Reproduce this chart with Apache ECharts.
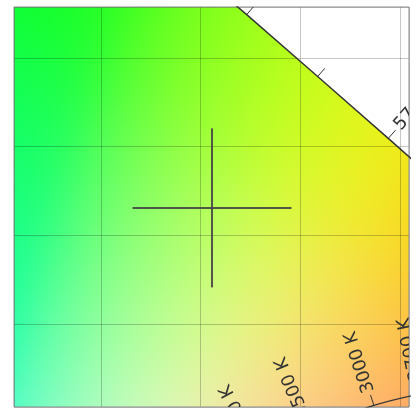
<!DOCTYPE html>
<html><head><meta charset="utf-8">
<script src="https://cdn.jsdelivr.net/npm/echarts@6/dist/echarts.min.js"></script>
<style>html,body{margin:0;padding:0;background:#fff}#main{width:419px;height:410px}</style>
</head><body><div id="main"></div>
<script>
// visible window of the CIE 1931 xy diagram
const xRange = [0.2564, 0.4545];
const yRange = [0.4032, 0.6288];

// spectral locus (CIE 1931 2°), 5 nm steps
const wavelengths = [380,385,390,395,400,405,410,415,420,425,430,435,440,445,450,455,460,465,470,475,480,485,490,495,500,505,510,515,520,525,530,535,540,545,550,555,560,565,570,575,580,585,590,595,600,605,610,615,620,625,630,635,640,645,650,655,660,665,670,675,680,685,690,695,700];
const locusX = [0.1741,0.1740,0.1738,0.1736,0.1733,0.1730,0.1726,0.1721,0.1714,0.1703,0.1689,0.1669,0.1644,0.1611,0.1566,0.1510,0.1440,0.1355,0.1241,0.1096,0.0913,0.0687,0.0454,0.0235,0.0082,0.0039,0.0139,0.0389,0.0743,0.1142,0.1547,0.1929,0.2296,0.2658,0.3016,0.3373,0.3731,0.4087,0.4441,0.4788,0.5125,0.5448,0.5752,0.6029,0.6270,0.6482,0.6658,0.6801,0.6915,0.7006,0.7079,0.7140,0.7190,0.7230,0.7260,0.7283,0.7300,0.7311,0.7320,0.7327,0.7334,0.7340,0.7344,0.7346,0.7347];
const locusY = [0.0050,0.0050,0.0049,0.0049,0.0048,0.0048,0.0048,0.0048,0.0051,0.0058,0.0069,0.0086,0.0109,0.0138,0.0177,0.0227,0.0297,0.0399,0.0578,0.0868,0.1327,0.2007,0.2950,0.4127,0.5384,0.6548,0.7502,0.8120,0.8338,0.8262,0.8059,0.7816,0.7543,0.7243,0.6923,0.6589,0.6245,0.5896,0.5547,0.5202,0.4866,0.4544,0.4242,0.3965,0.3725,0.3514,0.3340,0.3197,0.3083,0.2993,0.2920,0.2859,0.2809,0.2770,0.2740,0.2717,0.2700,0.2689,0.2680,0.2673,0.2666,0.2660,0.2656,0.2654,0.2653];
const labeledWavelengths = [480,490,500,510,520,530,540,550,560,570,580,590,600,620];

// Planckian locus
const planckTemps = [1000,1500,2000,2500,2700,3000,3500,4000,4500,5000,5500,6000,6500,7000,8000,10000];
const planckX = [0.6528,0.5857,0.5267,0.4770,0.4599,0.4369,0.4053,0.3805,0.3608,0.3451,0.3325,0.3221,0.3135,0.3064,0.2952,0.2807];
const planckY = [0.3444,0.3931,0.4133,0.4137,0.4106,0.4041,0.3907,0.3768,0.3636,0.3516,0.3411,0.3318,0.3237,0.3166,0.3048,0.2884];
const planckLabelTemps = [1500,2000,2500,2700,3000,3500,4000,5000,6500,10000];

// cross marker
const crossCenter = [0.3557, 0.5155];

function xyToRgb(x, y) {
  const X = x / y, Y = 1, Z = (1 - x - y) / y;
  let r = 3.2406 * X - 1.5372 * Y - 0.4986 * Z;
  let g = -0.9689 * X + 1.8758 * Y + 0.0415 * Z;
  let b = 0.0557 * X - 0.2040 * Y + 1.0570 * Z;
  const e2 = 0.1 * 0.1;
  const soft = v => (v + Math.sqrt(v * v + e2)) / 2;
  r = soft(r); g = soft(g); b = soft(b);
  const n = Math.pow(r * r * r * r + g * g * g * g + b * b * b * b, 0.25) || 1;
  const gam = v => { v = Math.min(1, Math.max(0, v)); return v <= 0.0031308 ? 12.92 * v : 1.055 * Math.pow(v, 1 / 2.4) - 0.055; };
  return [gam(r / n) * 255, gam(g / n) * 255, gam(b / n) * 255];
}
function inPoly(x, y, px, py) {
  let inside = false;
  for (let i = 0, j = px.length - 1; i < px.length; j = i++) {
    if (((py[i] > y) !== (py[j] > y)) && (x < (px[j] - px[i]) * (y - py[i]) / (py[j] - py[i]) + px[i])) inside = !inside;
  }
  return inside;
}

let fillCache = null;
function renderFill(params, api) {
  const cs = params.coordSys;
  const key = [cs.x, cs.y, cs.width, cs.height].join(',');
  if (!fillCache || fillCache.key !== key) {
    const w = Math.round(cs.width), h = Math.round(cs.height);
    const cv = document.createElement('canvas'); cv.width = w; cv.height = h;
    const ctx = cv.getContext('2d'); const img = ctx.createImageData(w, h);
    const a = api.coord([xRange[0], yRange[0]]), b = api.coord([xRange[1], yRange[1]]);
    for (let j = 0; j < h; j++) {
      const py = cs.y + j + 0.5;
      const dy = yRange[0] + (py - a[1]) / (b[1] - a[1]) * (yRange[1] - yRange[0]);
      for (let i = 0; i < w; i++) {
        const px = cs.x + i + 0.5;
        const dx = xRange[0] + (px - a[0]) / (b[0] - a[0]) * (xRange[1] - xRange[0]);
        const k = (j * w + i) * 4;
        if (inPoly(dx, dy, locusX, locusY)) {
          const c = xyToRgb(dx, dy);
          img.data[k] = c[0]; img.data[k + 1] = c[1]; img.data[k + 2] = c[2]; img.data[k + 3] = 255;
        } else img.data[k + 3] = 0;
      }
    }
    ctx.putImageData(img, 0, 0);
    fillCache = { key, canvas: cv };
  }
  return { type: 'image', style: { image: fillCache.canvas, x: cs.x, y: cs.y, width: cs.width, height: cs.height } };
}

function tickLabel(api, p, prev, next, side, text) {
  const dx = next[0] - prev[0], dy = -(next[1] - prev[1]);
  const phi = Math.atan2(dy, dx) + side * Math.PI / 2;
  const ux = Math.cos(phi), uy = -Math.sin(phi);
  const L = 11, gap = 3;
  const children = [{
    type: 'line', shape: { x1: p[0], y1: p[1], x2: p[0] + ux * L, y2: p[1] + uy * L },
    style: { stroke: '#333', lineWidth: 1 }
  }];
  if (text) children.push({
    type: 'text', x: p[0] + ux * (L + gap), y: p[1] + uy * (L + gap), rotation: phi,
    style: { text: text, align: 'left', verticalAlign: 'middle', fontSize: 18, fill: '#333', fontFamily: 'DejaVu Sans, sans-serif' }
  });
  return { type: 'group', children };
}

const chart = echarts.init(document.getElementById('main'), null, { renderer: 'canvas' });
chart.setOption({
  animation: false,
  grid: { left: 14, right: 10, top: 7, bottom: 3, show: true, borderColor: '#8a8a8a', borderWidth: 1, backgroundColor: 'transparent', z: 3 },
  xAxis: { type: 'value', min: xRange[0], max: xRange[1], splitNumber: 4, z: 1,
    axisLabel: { show: false }, axisTick: { show: false }, axisLine: { show: false },
    splitLine: { show: true, lineStyle: { color: 'rgba(0,0,0,0.22)', width: 1 } } },
  yAxis: { type: 'value', min: yRange[0], max: yRange[1], splitNumber: 4, z: 1,
    axisLabel: { show: false }, axisTick: { show: false }, axisLine: { show: false },
    splitLine: { show: true, lineStyle: { color: 'rgba(0,0,0,0.22)', width: 1 } } },
  series: [
    { type: 'custom', z: 0, silent: true, clip: true, renderItem: renderFill, data: [[xRange[0], yRange[0]]] },
    { type: 'line', z: 5, silent: true, showSymbol: false, clip: true,
      data: locusX.map((x, i) => [x, locusY[i]]), lineStyle: { color: '#333', width: 1.4 } },
    { type: 'line', z: 5, silent: true, showSymbol: false, clip: true, smooth: 0.3,
      data: planckX.map((x, i) => [x, planckY[i]]), lineStyle: { color: '#333', width: 1.2 } },
    { type: 'custom', z: 6, silent: true, clip: true,
      data: wavelengths.map((w, i) => [locusX[i], locusY[i], w]).filter((d, i) => i > 0 && i < wavelengths.length - 1),
      renderItem: function (params, api) {
        const w = api.value(2); const i = wavelengths.indexOf(w);
        const p = api.coord([locusX[i], locusY[i]]);
        const prev = api.coord([locusX[i - 1], locusY[i - 1]]);
        const next = api.coord([locusX[i + 1], locusY[i + 1]]);
        return tickLabel(api, p, prev, next, 1, labeledWavelengths.indexOf(w) >= 0 ? String(w) : null);
      } },
    { type: 'custom', z: 6, silent: true, clip: true,
      data: planckLabelTemps.map(t => { const i = planckTemps.indexOf(t); return [planckX[i], planckY[i], t]; }),
      renderItem: function (params, api) {
        const t = api.value(2); const i = planckTemps.indexOf(t);
        const p = api.coord([planckX[i], planckY[i]]);
        const prev = api.coord([planckX[i - 1], planckY[i - 1]]);
        const next = api.coord([planckX[i + 1], planckY[i + 1]]);
        return tickLabel(api, p, prev, next, -1, t + ' K');
      } },
    { type: 'custom', z: 7, silent: true, clip: true, data: [crossCenter],
      renderItem: function (params, api) {
        const p = api.coord([api.value(0), api.value(1)]); const r = 79.5;
        const st = { stroke: '#454545', lineWidth: 2, opacity: 0.9 };
        return { type: 'group', children: [
          { type: 'line', shape: { x1: p[0] - r, y1: p[1], x2: p[0] + r, y2: p[1] }, style: st },
          { type: 'line', shape: { x1: p[0], y1: p[1] - r, x2: p[0], y2: p[1] + r }, style: st }
        ] };
      } }
  ]
});
</script></body></html>
